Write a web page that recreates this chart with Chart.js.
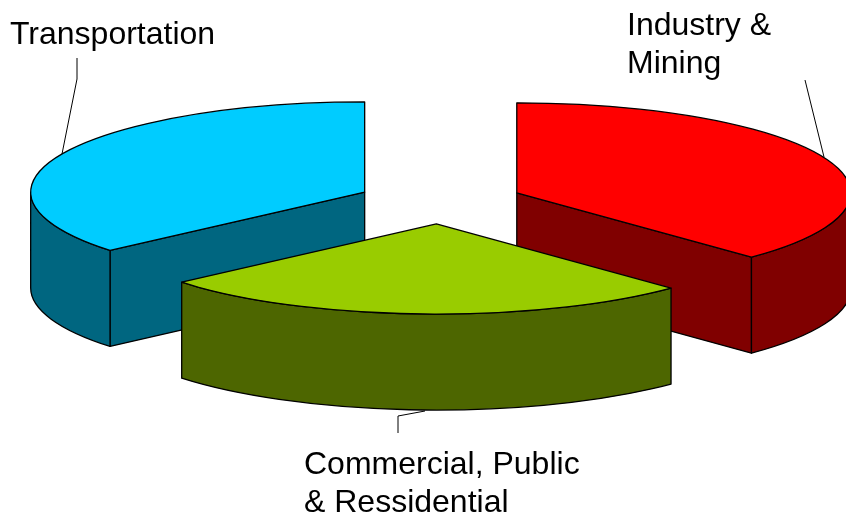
<!DOCTYPE html>
<html>
<head>
<meta charset="utf-8">
<style>
html,body{margin:0;padding:0;background:#fff;overflow:hidden}
#wrap{position:relative;width:846px;height:517px}
canvas{display:block}
</style>
<script src="https://cdn.jsdelivr.net/npm/chart.js@4"></script>
</head>
<body>
<div id="wrap"><canvas id="c" width="846" height="517"></canvas></div>
<script>
// Data
const categories = ['Industry & Mining', 'Commercial, Public & Ressidential', 'Transportation'];
const shares = [37.6, 26.2, 36.2];
const topColors = ['#ff0000', '#99cc00', '#00ccff'];
const sideColors = ['#800000', '#4d6600', '#006680'];
// Appearance of the tilted pie
const explode = [83, 83, 83];
const pieRadius = 334;
const tilt = 0.27;
const depth = 96;
// Text labels and their leader lines
const labelLines = [
  {lines: ['Transportation'], x: 10, y: 44, leader: [[77, 58], [77, 79], [62, 154]]},
  {lines: ['Industry &', 'Mining'], x: 627, y: 35, leader: [[805, 80], [824, 157]]},
  {lines: ['Commercial, Public', '& Ressidential'], x: 304, y: 474, leader: [[398, 433], [398, 416], [425, 411]]}
];

const pie3d = {
  id: 'pie3d',
  beforeDatasetDraw(chart, args) {
    const ctx = chart.ctx;
    const meta = args.meta;
    const slices = meta.data.map((arc, i) => {
      const p = arc.getProps(['x', 'y', 'startAngle', 'endAngle', 'outerRadius'], true);
      const off = arc.options.offset || 0;
      const mid = (p.startAngle + p.endAngle) / 2;
      return {
        start: p.startAngle, end: p.endAngle, r: p.outerRadius,
        cx: p.x + off * Math.cos(mid),
        cy: p.y + off * Math.sin(mid) * tilt,
        top: arc.options.backgroundColor,
        side: sideColors[i]
      };
    }).sort((a, b) => a.cy - b.cy);

    ctx.save();
    ctx.strokeStyle = '#000';
    ctx.lineWidth = 1.3;
    ctx.lineJoin = 'round';
    for (const s of slices) {
      const ry = s.r * tilt;
      const pt = a => [s.cx + s.r * Math.cos(a), s.cy + ry * Math.sin(a)];
      // radial faces that look toward the viewer
      for (const [angle, visible] of [[s.start, Math.cos(s.start) < -1e-6], [s.end, Math.cos(s.end) > 1e-6]]) {
        if (!visible) continue;
        const [ex, ey] = pt(angle);
        ctx.beginPath();
        ctx.moveTo(s.cx, s.cy);
        ctx.lineTo(ex, ey);
        ctx.lineTo(ex, ey + depth);
        ctx.lineTo(s.cx, s.cy + depth);
        ctx.closePath();
        ctx.fillStyle = s.side;
        ctx.fill();
        ctx.stroke();
      }
      // outer wall (front half of the rim only)
      const a = Math.max(s.start, 0), b = Math.min(s.end, Math.PI);
      if (b > a) {
        ctx.beginPath();
        ctx.ellipse(s.cx, s.cy, s.r, ry, 0, a, b, false);
        ctx.ellipse(s.cx, s.cy + depth, s.r, ry, 0, b, a, true);
        ctx.closePath();
        ctx.fillStyle = s.side;
        ctx.fill();
        ctx.stroke();
      }
      // top face
      ctx.beginPath();
      ctx.moveTo(s.cx, s.cy);
      ctx.ellipse(s.cx, s.cy, s.r, ry, 0, s.start, s.end, false);
      ctx.closePath();
      ctx.fillStyle = s.top;
      ctx.fill();
      ctx.stroke();
    }
    ctx.restore();
    return false;
  },
  afterDraw(chart) {
    const ctx = chart.ctx;
    ctx.save();
    ctx.strokeStyle = '#000';
    ctx.lineWidth = 1;
    for (const l of labelLines) {
      ctx.beginPath();
      l.leader.forEach(([x, y], i) => i ? ctx.lineTo(x, y) : ctx.moveTo(x, y));
      ctx.stroke();
    }
    ctx.fillStyle = '#000';
    ctx.font = '32px "Liberation Sans", Arial, sans-serif';
    ctx.textBaseline = 'alphabetic';
    for (const l of labelLines) {
      l.lines.forEach((t, i) => ctx.fillText(t, l.x, l.y + i * 38));
    }
    ctx.restore();
  }
};

new Chart(document.getElementById('c'), {
  type: 'pie',
  data: {
    labels: categories,
    datasets: [{
      data: shares,
      backgroundColor: topColors,
      borderWidth: 0,
      offset: explode,
      radius: pieRadius
    }]
  },
  options: {
    responsive: false,
    animation: false,
    rotation: 0,
    events: [],
    layout: {padding: {left: 34, bottom: 114}},
    plugins: {legend: {display: false}, tooltip: {enabled: false}, title: {display: false}}
  },
  plugins: [pie3d]
});
</script>
</body>
</html>
